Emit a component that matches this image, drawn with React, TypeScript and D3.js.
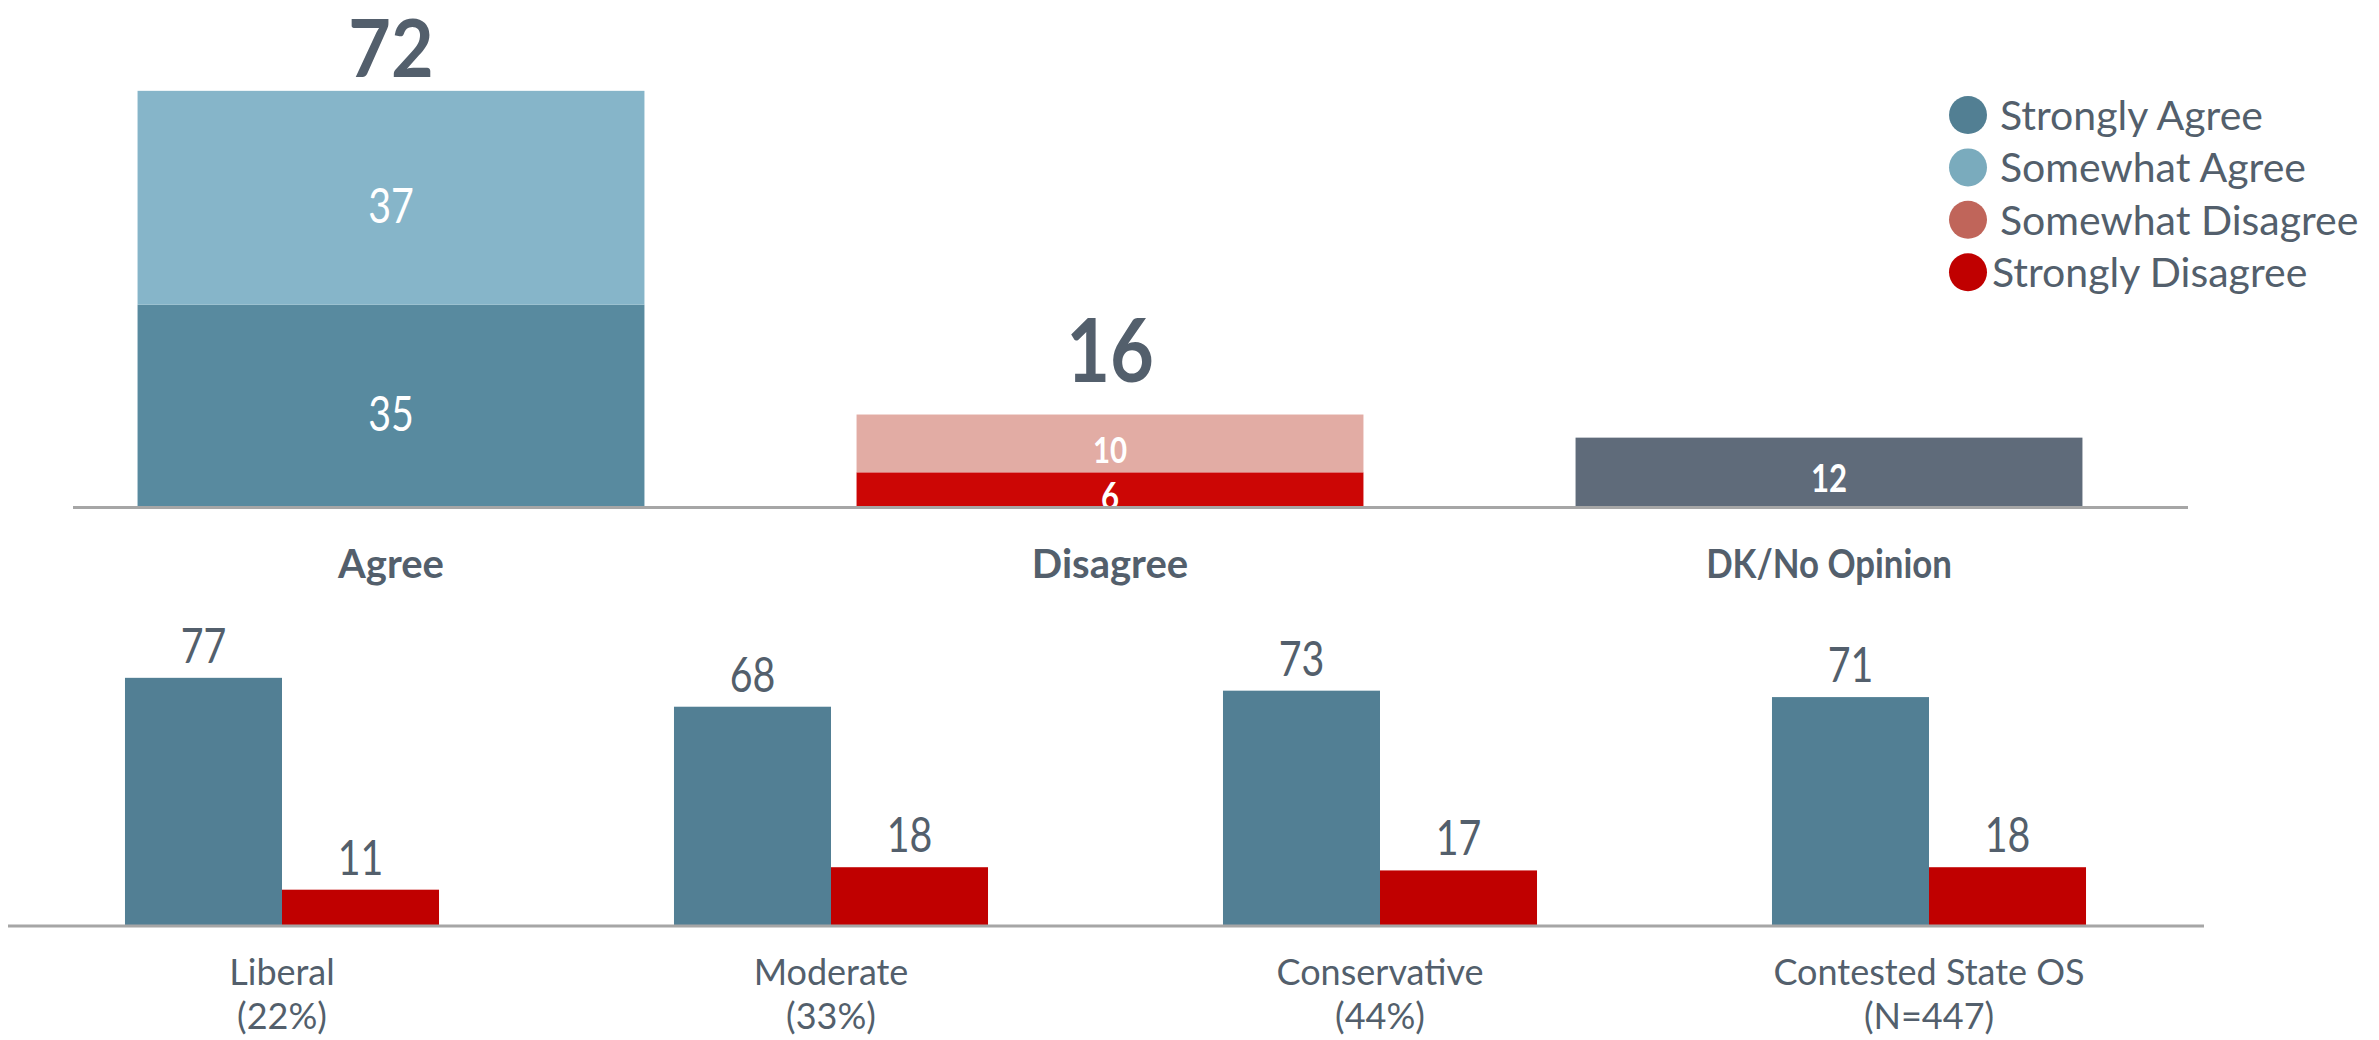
import React from "react";
import * as d3 from "d3";

const topCategories = ["Agree", "Disagree", "DK/No Opinion"];
const topStrong = [35, 6, 12];
const topSomewhat = [37, 10, 0];
const topTotals = [72, 16, 12];

const groups = ["Liberal", "Moderate", "Conservative", "Contested State OS"];
const groupSub = ["(22%)", "(33%)", "(44%)", "(N=447)"];
const agreeVals = [77, 68, 73, 71];
const disagreeVals = [11, 18, 17, 18];

const legendLabels = ["Strongly Agree", "Somewhat Agree", "Somewhat Disagree", "Strongly Disagree"];
const legendColors = ["#527f93", "#7aabbd", "#c0655a", "#c00000"];

const TEXT = "#535f6c";
const FONT = "Lato, 'Open Sans', sans-serif";

function T({ x, y, sx = 1, anchor = "middle", size, weight = 400, fill = TEXT, children }: any) {
  return (
    <text
      transform={`translate(${x},${y}) scale(${sx},1)`}
      textAnchor={anchor}
      fontSize={size}
      fontWeight={weight}
      fill={fill}
      fontFamily={FONT}
    >
      {children}
    </text>
  );
}

export default function App() {
  const W = 2379, H = 1040;

  // Top chart scales
  const xTop = d3.scaleBand<string>().domain(topCategories).range([31.5, 2188.5]).paddingInner(0.295).paddingOuter(0.1475);
  const yTop = d3.scaleLinear().domain([0, 100]).range([507, 507 - 578]);
  const strongColors = ["#588a9f", "#cc0605", "#5f6b7a"];
  const somewhatColors = ["#86b5c9", "#e2aca4", "#e2aca4"];

  // Bottom chart scales
  const xB = d3.scaleBand<string>().domain(groups).range([7.5, 2203.5]).paddingInner(0.428).paddingOuter(0.214);
  const xSub = d3.scaleBand<string>().domain(["agree", "disagree"]).range([0, xB.bandwidth()]);
  const yB = d3.scaleLinear().domain([0, 100]).range([925, 925 - 321]);

  return (
    <svg width={W} height={H} style={{ position: "absolute", left: 0, top: 0, background: "#fff" }}>
      <rect x={0} y={0} width={W} height={H} fill="#fff" />
      {/* Top chart */}
      {topCategories.map((c, i) => {
        const x = xTop(c)!;
        const bw = xTop.bandwidth();
        const cx = x + bw / 2;
        const y0 = yTop(0);
        const y1 = yTop(topStrong[i]);
        const y2 = yTop(topStrong[i] + topSomewhat[i]);
        const bold = i > 0;
        const gap = i === 0 ? 14 : 33;
        return (
          <g key={c}>
            <rect x={x} y={y1} width={bw} height={y0 - y1} fill={strongColors[i]} />
            {topSomewhat[i] > 0 && <rect x={x} y={y2} width={bw} height={y1 - y2} fill={somewhatColors[i]} />}
            <T x={cx} y={(y0 + y1) / 2 + (bold ? 20 : 25)} size={bold ? 38 : 48} weight={bold ? 700 : 400} fill="#fff" sx={0.82}>
              {topStrong[i]}
            </T>
            {topSomewhat[i] > 0 && (
              <T x={cx} y={(y1 + y2) / 2 + (bold ? 20 : 25)} size={bold ? 36 : 48} weight={bold ? 700 : 400} fill="#fff" sx={0.82}>
                {topSomewhat[i]}
              </T>
            )}
            {i < 2 && (
              <T x={cx} y={yTop(topTotals[i]) - gap} size={i === 0 ? 80 : 89} weight={700} sx={i === 0 ? 0.92 : 0.85}>
                {topTotals[i]}
              </T>
            )}
            <T x={cx} y={578} size={40} weight={700} sx={i === 2 ? 0.87 : 1}>
              {c}
            </T>
          </g>
        );
      })}
      <line x1={73} x2={2188} y1={507.5} y2={507.5} stroke="#a6a6a6" strokeWidth={3} />

      {/* Legend */}
      {legendLabels.map((l, i) => {
        const cy = 115 + i * 52.4;
        return (
          <g key={l}>
            <circle cx={1968} cy={cy} r={19} fill={legendColors[i]} />
            <T x={i === 3 ? 1992 : 2000} y={cy + 15} size={41} anchor="start">
              {l}
            </T>
          </g>
        );
      })}

      {/* Bottom chart */}
      {groups.map((g, i) => {
        const gx = xB(g)!;
        const ax = gx + xSub("agree")!;
        const dx = gx + xSub("disagree")!;
        const sw = xSub.bandwidth();
        const cx = gx + xB.bandwidth() / 2;
        return (
          <g key={g}>
            <rect x={ax} y={yB(agreeVals[i])} width={sw} height={yB(0) - yB(agreeVals[i])} fill="#527f94" />
            <rect x={dx} y={yB(disagreeVals[i])} width={sw} height={yB(0) - yB(disagreeVals[i])} fill="#c00000" />
            <T x={ax + sw / 2} y={yB(agreeVals[i]) - 15} size={48} sx={0.82}>
              {agreeVals[i]}
            </T>
            <T x={dx + sw / 2} y={yB(disagreeVals[i]) - 15} size={48} sx={0.82}>
              {disagreeVals[i]}
            </T>
            <T x={cx} y={985} size={36}>
              {g}
            </T>
            <T x={cx} y={1029} size={36}>
              {groupSub[i]}
            </T>
          </g>
        );
      })}
      <line x1={8} x2={2204} y1={926} y2={926} stroke="#a6a6a6" strokeWidth={3} />
    </svg>
  );
}
